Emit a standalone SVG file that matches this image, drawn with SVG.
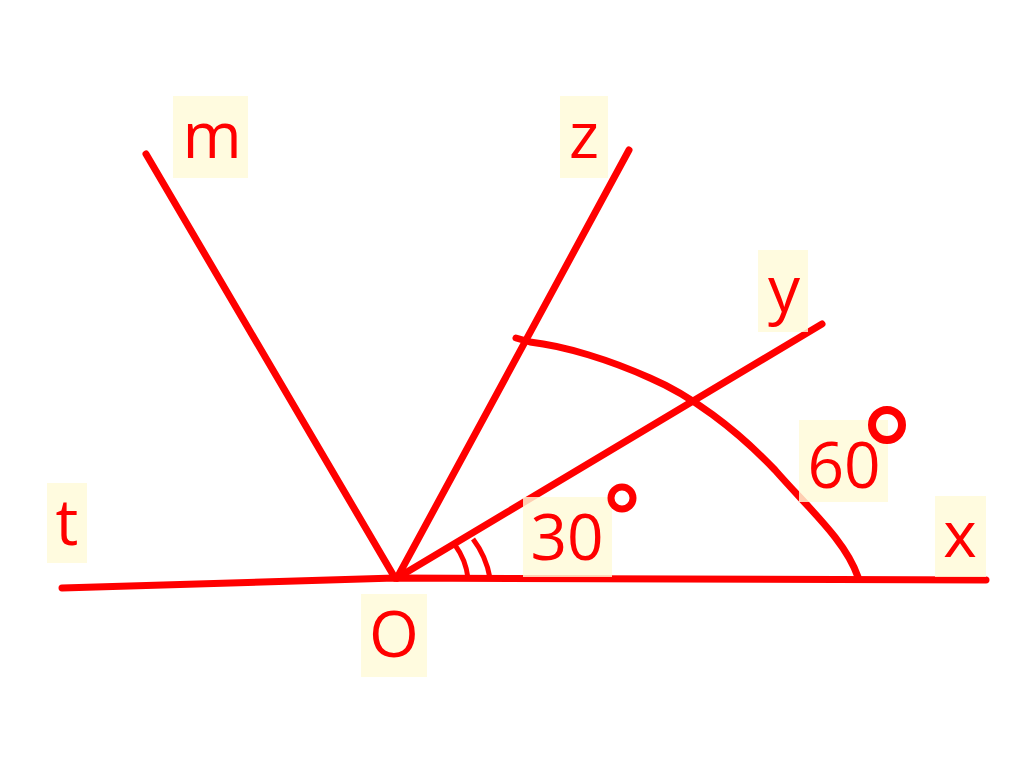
<svg xmlns="http://www.w3.org/2000/svg" width="1024" height="758" viewBox="0 0 1024 758">
<style>
.ln{stroke:#ff0000;stroke-width:7;stroke-linecap:round;stroke-linejoin:round;fill:none}
.thin{stroke:#ff0000;stroke-width:5;fill:none}
.bx{fill:#fffad8;opacity:0.82}
.lb{font-family:"Open Sans","DejaVu Sans",sans-serif;font-size:64px;fill:#ff0000;text-anchor:middle}
.deg{stroke:#ff0000;fill:none}
</style>
<rect width="1024" height="758" fill="#ffffff"/>
<g id="connectors">
<path class="ln" d="M62 588 L395 578 L986 580"/>
<path class="ln" d="M146 154 L395 578"/>
<path class="ln" d="M629 150 L397 578"/>
<path class="ln" d="M822 324 L397 578"/>
<path class="ln" d="M516 338 L530 342 C565 346 610 360 650 378 C690 395 735 428 775 470 C810 510 845 540 858 577"/>
<path class="thin" d="M455 545 A70 70 0 0 1 468 578"/>
<path class="thin" d="M473 539 A90 90 0 0 1 490 578"/>
</g>
<g id="label-m"><rect class="bx" x="173" y="96" width="75" height="82"/><text class="lb" x="212" y="158">m</text></g>
<g id="label-z"><rect class="bx" x="560" y="96" width="48" height="82"/><text class="lb" x="584" y="158">z</text></g>
<g id="label-y"><rect class="bx" x="758" y="250" width="50" height="82"/><text class="lb" x="784" y="312">y</text></g>
<g id="label-t"><rect class="bx" x="47" y="483" width="40" height="80"/><text class="lb" x="67" y="545">t</text></g>
<g id="label-x"><rect class="bx" x="935" y="496" width="51" height="81"/><text class="lb" x="960" y="557">x</text></g>
<g id="label-O"><rect class="bx" x="361" y="594" width="66" height="83"/><text class="lb" x="394" y="657">O</text></g>
<g id="label-30"><rect class="bx" x="523" y="497" width="89" height="80"/><text class="lb" x="567" y="560">30</text><circle class="deg" cx="622" cy="498" r="11" stroke-width="7"/></g>
<g id="label-60"><rect class="bx" x="799" y="420" width="89" height="82"/><text class="lb" x="844" y="488">60</text><circle class="deg" cx="887" cy="425" r="15" stroke-width="8"/></g>
</svg>
